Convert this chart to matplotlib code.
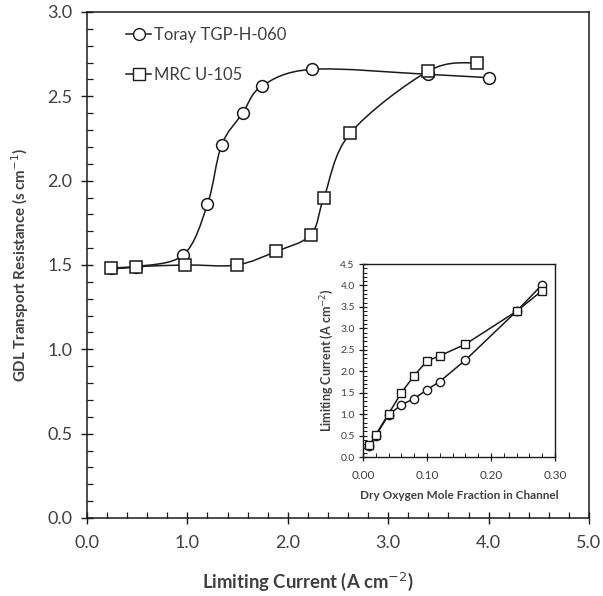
import numpy as np
import matplotlib
matplotlib.use("Agg")
import matplotlib.pyplot as plt
from matplotlib.path import Path
from matplotlib.patches import PathPatch
from matplotlib.lines import Line2D
from matplotlib.ticker import MultipleLocator, FormatStrFormatter

plt.rcParams['font.family'] = ['Lato', 'DejaVu Sans']

# Main chart data
toray_current = [0.24, 0.49, 0.96, 1.20, 1.34, 1.55, 1.74, 2.24, 3.40, 4.00]
toray_resist = [1.48, 1.49, 1.56, 1.86, 2.21, 2.40, 2.56, 2.66, 2.63, 2.61]
mrc_current = [0.24, 0.49, 0.98, 1.49, 1.88, 2.23, 2.36, 2.62, 3.40, 3.88]
mrc_resist = [1.48, 1.49, 1.50, 1.50, 1.58, 1.68, 1.90, 2.28, 2.65, 2.70]

# Inset data
o2_frac = [0.01, 0.02, 0.04, 0.06, 0.08, 0.10, 0.12, 0.16, 0.24, 0.28]
toray_lc = [0.25, 0.50, 0.98, 1.22, 1.36, 1.57, 1.76, 2.26, 3.40, 4.02]
mrc_lc = [0.27, 0.52, 1.01, 1.50, 1.90, 2.24, 2.36, 2.63, 3.40, 3.88]

series_labels = ['Toray TGP-H-060', 'MRC U-105']

LINE = '#1a1a1a'
TXT = '#404040'


def smooth_path(x, y):
    p = np.column_stack([x, y]).astype(float)
    n = len(p)
    verts = [p[0]]
    codes = [Path.MOVETO]
    for i in range(n - 1):
        p0 = p[i - 1] if i > 0 else p[i]
        p1 = p[i]
        p2 = p[i + 1]
        p3 = p[i + 2] if i + 2 < n else p[i + 1]
        c1 = p1 + (p2 - p0) / 6.0
        c2 = p2 - (p3 - p1) / 6.0
        verts += [c1, c2, p2]
        codes += [Path.CURVE4] * 3
    return Path(verts, codes)


fig = plt.figure(figsize=(6.03, 5.96), dpi=100)
ax = fig.add_axes([0.1443, 0.1309, 0.8325, 0.849])

for xs, ys in [(toray_current, toray_resist), (mrc_current, mrc_resist)]:
    ax.add_patch(PathPatch(smooth_path(xs, ys), facecolor='none', edgecolor=LINE, lw=1.1, zorder=2))

ax.plot(toray_current, toray_resist, linestyle='none', marker='o', ms=8.5,
        mfc='white', mec=LINE, mew=1.1, zorder=3)
ax.plot(mrc_current, mrc_resist, linestyle='none', marker='s', ms=8.5,
        mfc='white', mec=LINE, mew=1.1, zorder=4)

ax.set_xlim(0, 5)
ax.set_ylim(0, 3)
ax.xaxis.set_major_locator(MultipleLocator(1.0))
ax.xaxis.set_minor_locator(MultipleLocator(0.2))
ax.yaxis.set_major_locator(MultipleLocator(0.5))
ax.yaxis.set_minor_locator(MultipleLocator(0.1))
ax.xaxis.set_major_formatter(FormatStrFormatter('%.1f'))
ax.yaxis.set_major_formatter(FormatStrFormatter('%.1f'))
ax.tick_params(which='major', direction='inout', length=9, width=1.0, color=LINE,
               labelsize=13, labelcolor=TXT, pad=6)
ax.tick_params(axis='x', which='major', pad=8)
ax.tick_params(which='minor', direction='in', length=4, width=0.9, color=LINE)
for s in ax.spines.values():
    s.set_color(LINE)
    s.set_linewidth(1.1)
ax.set_xlabel('Limiting Current (A cm$^{-2}$)', fontsize=13.3, fontweight='bold',
              color=TXT)
ax.xaxis.set_label_coords(0.44, -0.104)
ax.set_ylabel('GDL Transport Resistance (s cm$^{-1}$)', fontsize=10.8, fontweight='bold',
              color=TXT)
ax.yaxis.set_label_coords(-0.112, 0.5)

handles = [Line2D([], [], color=LINE, lw=1.1, marker='o', ms=8.5, mfc='white', mec=LINE),
           Line2D([], [], color=LINE, lw=1.1, marker='s', ms=8.5, mfc='white', mec=LINE)]
leg = ax.legend(handles, series_labels, loc='upper left', bbox_to_anchor=(0.058, 0.99),
                frameon=False, fontsize=12, handlelength=1.5, handletextpad=0.15,
                labelspacing=1.45, borderaxespad=0.2)
for t in leg.get_texts():
    t.set_color(TXT)

# Inset
ax2 = fig.add_axes([0.602, 0.2332, 0.3184, 0.3238])
ax2.plot(o2_frac, toray_lc, color=LINE, lw=1.1, marker='o', ms=6, mfc='white',
         mec=LINE, mew=1.0, zorder=3)
ax2.plot(o2_frac, mrc_lc, color=LINE, lw=1.1, marker='s', ms=6, mfc='white',
         mec=LINE, mew=1.0, zorder=4)
ax2.set_xlim(0, 0.30)
ax2.set_ylim(0, 4.5)
ax2.xaxis.set_major_locator(MultipleLocator(0.10))
ax2.xaxis.set_minor_locator(MultipleLocator(0.02))
ax2.yaxis.set_major_locator(MultipleLocator(0.5))
ax2.yaxis.set_minor_locator(MultipleLocator(0.1))
ax2.xaxis.set_major_formatter(FormatStrFormatter('%.2f'))
ax2.yaxis.set_major_formatter(FormatStrFormatter('%.1f'))
ax2.tick_params(which='major', direction='inout', length=6, width=0.9, color=LINE,
                labelsize=8.5, labelcolor=TXT, pad=3)
ax2.tick_params(axis='y', which='major', labelsize=7.5)
ax2.tick_params(axis='x', which='major', pad=6)
ax2.tick_params(which='minor', direction='in', length=3, width=0.7, color=LINE)
for s in ax2.spines.values():
    s.set_color(LINE)
    s.set_linewidth(1.0)
ax2.set_xlabel('Dry Oxygen Mole Fraction in Channel', fontsize=8.5, fontweight='bold',
               color=TXT, labelpad=7)
ax2.set_ylabel('Limiting Current (A cm$^{-2}$)', fontsize=9, fontweight='bold',
               color=TXT, labelpad=3)

fig.savefig('out.png', dpi=100, facecolor='white')
